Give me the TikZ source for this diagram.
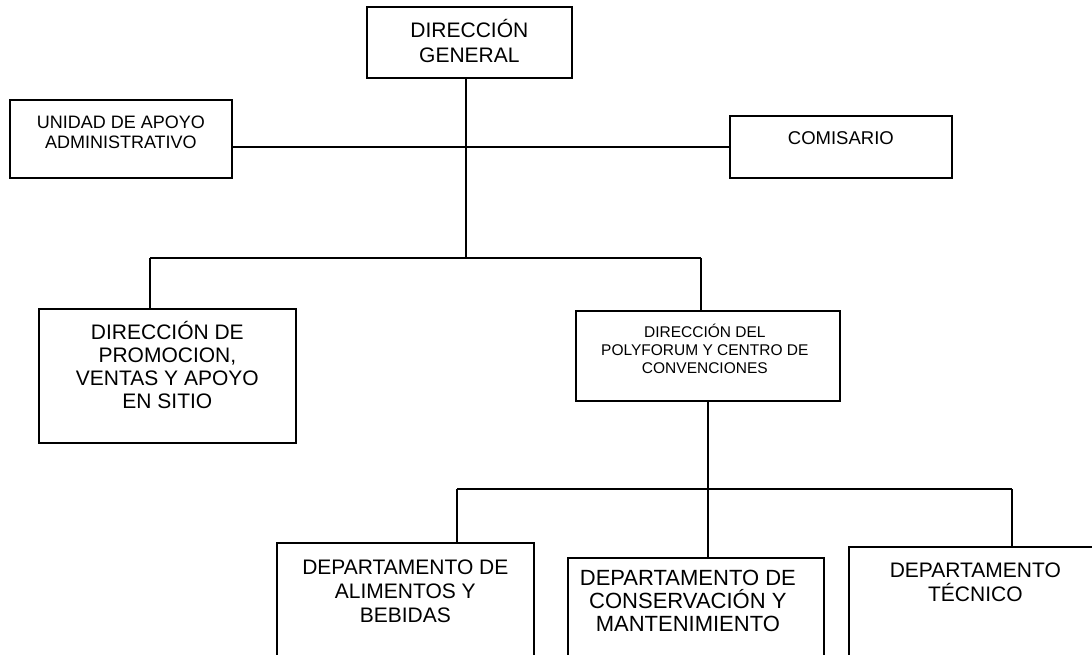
\documentclass[tikz,border=0pt]{standalone}
\usepackage{fontspec}
\setmainfont{Liberation Sans}
\usetikzlibrary{positioning}

\begin{document}
\begin{tikzpicture}[x=1pt, y=-1pt,
	unit/.style={draw, line width=1.7pt, inner sep=0pt, anchor=north west},
	lbl/.style={anchor=north, inner sep=0pt, align=center},
	link/.style={line width=1.7pt},
	trunk/.style={line width=2.8pt}]
	
	\useasboundingbox (0,0) rectangle (1092,654);
	\clip (0,0) rectangle (1092,654);
	
	\node[unit, minimum width=205pt, minimum height=71pt, label={[lbl, yshift=-13pt, font=\fontsize{21}{25}\selectfont]north:{DIRECCIÓN\\GENERAL}}] (dg) at (366,6) {};
	\node[unit, minimum width=222pt, minimum height=78pt, label={[lbl, yshift=-17pt, font=\fontsize{18}{20}\selectfont]north:{UNIDAD DE APOYO\\ADMINISTRATIVO}}] (unidad) at (9,99) {};
	\node[unit, minimum width=222pt, minimum height=62pt, label={[lbl, yshift=-16pt, font=\fontsize{18.5}{21}\selectfont]north:{COMISARIO}}] (comis) at (729,115) {};
	\node[unit, minimum width=257pt, minimum height=134pt, label={[lbl, yshift=-13pt, font=\fontsize{21}{23}\selectfont]north:{DIRECCIÓN DE\\PROMOCION,\\VENTAS Y APOYO\\EN SITIO}}] (promo) at (38,308) {};
	\node[unit, minimum width=264pt, minimum height=90pt, label={[lbl, xshift=-3pt, yshift=-14pt, font=\fontsize{15.5}{18}\selectfont]north:{DIRECCIÓN DEL\\POLYFORUM Y CENTRO DE\\CONVENCIONES}}] (poly) at (575,310) {};
	\node[unit, minimum width=257pt, minimum height=140pt, label={[lbl, yshift=-18pt, font=\fontsize{21}{24}\selectfont]north:{DEPARTAMENTO DE\\ALIMENTOS Y\\BEBIDAS}}] (alim) at (276,542) {};
	\node[unit, minimum width=256pt, minimum height=120pt, label={[lbl, xshift=-8pt, yshift=-13pt, font=\fontsize{22}{23}\selectfont]north:{DEPARTAMENTO DE\\CONSERVACIÓN Y\\MANTENIMIENTO}}] (cons) at (567,557) {};
	\node[unit, minimum width=253pt, minimum height=130pt, label={[lbl, yshift=-17pt, font=\fontsize{21}{24}\selectfont]north:{DEPARTAMENTO\\TÉCNICO}}] (tecn) at (848,546) {};
	
	\coordinate (top) at (466,258);
	\coordinate (busL) at (150,258);
	\coordinate (busR) at (701,258);
	\coordinate (lowL) at (457,489);
	\coordinate (lowR) at (1012,489);
	
	\draw[link] (unidad.east |- comis.west) -- (comis.west);
	\draw[trunk] (dg.south -| top) -- (top);
	\draw[link] (busL) -- (busR);
	\draw[link] (busL) -- (busL |- promo.north);
	\draw[link] (busR) -- (busR |- poly.north);
	\draw[link] (poly.south) -- (poly.south |- cons.north);
	\draw[link] (lowL) -- (lowR);
	\draw[link] (lowL) -- (lowL |- alim.north);
	\draw[link] (lowR) -- (lowR |- tecn.north);
\end{tikzpicture}
\end{document}
